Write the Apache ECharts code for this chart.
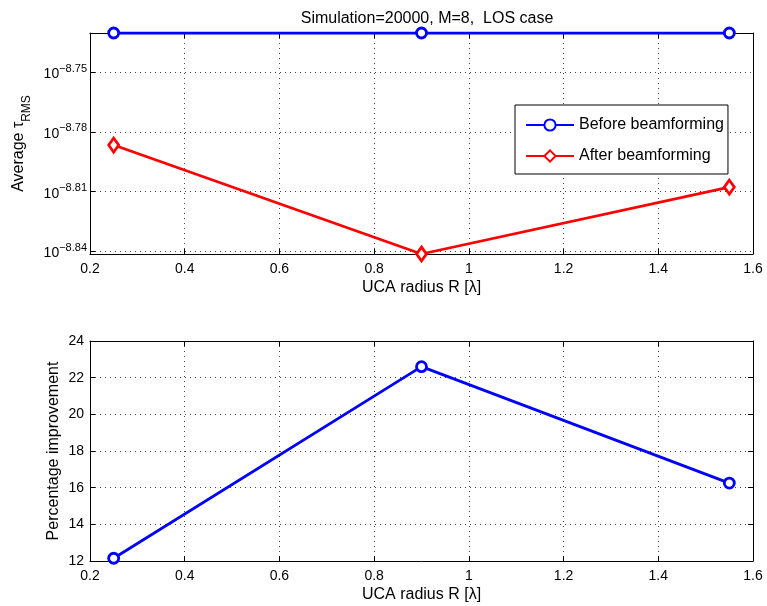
<!DOCTYPE html>
<html>
<head>
<meta charset="utf-8">
<title>UCA beamforming delay spread</title>
<script src="https://cdn.jsdelivr.net/npm/echarts@6/dist/echarts.min.js"></script>
<style>
  html, body { margin: 0; padding: 0; background: #fff; }
  #chart { width: 767px; height: 606px; }
</style>
</head>
<body>
<div id="chart"></div>
<script>
// UCA radius values (in wavelengths)
const radius = [0.25, 0.9, 1.55];
// Average RMS delay spread (seconds)
const tauBefore = [1.8601e-9, 1.8601e-9, 1.8601e-9];
const tauAfter = [1.6345e-9, 1.4414e-9, 1.5571e-9];
// Percentage improvement after beamforming
const improvement = [12.15, 22.6, 16.25];
// Log-axis tick exponents (ticks at 10^e)
const tauTickExponents = [-8.84, -8.81, -8.78, -8.75];
const tauTicks = tauTickExponents.map(e => Math.pow(10, e));

const FONT = 'Liberation Sans';
const BLUE = '#0000ff';
const RED = '#ff0000';
const LINE_W = 2.8;

function pairs(xs, ys) { return xs.map((x, i) => [x, ys[i]]); }

function expLabel(v) {
  const e = Math.log10(v).toFixed(2);
  return '{b|10}{s|\u2212' + e.replace('-', '') + '}';
}

const gridLine = { show: true, lineStyle: { color: '#000', type: [1, 4], width: 1, opacity: 0.75 } };
const axisLineBlack = { show: true, lineStyle: { color: '#000', width: 1 } };
const tickIn = { show: true, inside: true, length: 5, lineStyle: { color: '#000' } };
const nameStyle = { color: '#000', fontFamily: FONT, fontSize: 16 };

function xAxes(gridIndex) {
  const common = { type: 'value', gridIndex, min: 0.2, max: 1.6, interval: 0.2 };
  return [
    Object.assign({}, common, {
      position: 'bottom',
      axisLine: axisLineBlack, axisTick: tickIn, splitLine: gridLine,
      axisLabel: { color: '#000', fontFamily: FONT, fontSize: 14, margin: 8 },
      name: 'UCA radius R [\u03bb]', nameLocation: 'middle', nameGap: 26,
      nameTextStyle: nameStyle
    }),
    Object.assign({}, common, {
      position: 'top',
      axisLine: axisLineBlack, axisTick: tickIn, splitLine: { show: false },
      axisLabel: { show: false }
    })
  ];
}

const option = {
  animation: false,
  backgroundColor: '#fff',
  title: {
    text: 'Simulation=20000, M=8,  LOS case',
    left: 422, top: 6, textAlign: 'center',
    textStyle: { color: '#000', fontFamily: FONT, fontSize: 16, fontWeight: 'normal' }
  },
  legend: {
    data: ['Before beamforming', 'After beamforming'],
    orient: 'vertical',
    left: 515, top: 105,
    padding: [12, 4, 10, 10],
    itemGap: 15,
    itemWidth: 48, itemHeight: 14,
    backgroundColor: '#fff',
    borderColor: '#000', borderWidth: 1,
    textStyle: { color: '#000', fontFamily: FONT, fontSize: 16 }
  },
  grid: [
    { left: 90, top: 33, width: 663, height: 221, show: false },
    { left: 90, top: 341, width: 663, height: 220, show: false }
  ],
  xAxis: xAxes(0).concat(xAxes(1)),
  yAxis: [
    {
      type: 'log', logBase: 10, gridIndex: 0, position: 'left',
      min: v => v.min, max: v => v.max,
      axisLine: axisLineBlack,
      axisTick: Object.assign({}, tickIn, { customValues: tauTicks }),
      splitLine: gridLine,
      axisLabel: {
        customValues: tauTicks, margin: 3, formatter: expLabel,
        rich: {
          b: { color: '#000', fontFamily: FONT, fontSize: 14, lineHeight: 18, verticalAlign: 'bottom' },
          s: { color: '#000', fontFamily: FONT, fontSize: 11, lineHeight: 8, verticalAlign: 'top' }
        }
      },
      name: '{a|Average \u03c4}{r|RMS}', nameLocation: 'middle', nameGap: 57,
      nameMoveOverlap: false,
      nameTextStyle: {
        rich: {
          a: { color: '#000', fontFamily: FONT, fontSize: 16, lineHeight: 22, verticalAlign: 'top' },
          r: { color: '#000', fontFamily: FONT, fontSize: 12, lineHeight: 12, verticalAlign: 'bottom' }
        }
      }
    },
    {
      type: 'log', logBase: 10, gridIndex: 0, position: 'right',
      min: v => v.min, max: v => v.max,
      axisLine: axisLineBlack,
      axisTick: Object.assign({}, tickIn, { customValues: tauTicks }),
      splitLine: { show: false }, axisLabel: { show: false }
    },
    {
      type: 'value', gridIndex: 1, position: 'left', min: 12, max: 24, interval: 2,
      axisLine: axisLineBlack, axisTick: tickIn, splitLine: gridLine,
      axisLabel: { color: '#000', fontFamily: FONT, fontSize: 14, margin: 6 },
      name: 'Percentage improvement', nameLocation: 'middle', nameGap: 28,
      nameMoveOverlap: false,
      nameTextStyle: nameStyle
    },
    {
      type: 'value', gridIndex: 1, position: 'right', min: 12, max: 24, interval: 2,
      axisLine: axisLineBlack, axisTick: tickIn, splitLine: { show: false }, axisLabel: { show: false }
    }
  ],
  series: [
    {
      name: 'Before beamforming', type: 'line', xAxisIndex: 0, yAxisIndex: 0,
      data: pairs(radius, tauBefore),
      symbol: 'circle', symbolSize: 10, showAllSymbol: true,
      lineStyle: { color: BLUE, width: LINE_W },
      itemStyle: { color: '#fff', borderColor: BLUE, borderWidth: LINE_W },
      color: BLUE, z: 3
    },
    {
      name: 'After beamforming', type: 'line', xAxisIndex: 0, yAxisIndex: 0,
      data: pairs(radius, tauAfter),
      symbol: 'diamond', symbolSize: [10, 14], showAllSymbol: true,
      lineStyle: { color: RED, width: LINE_W },
      itemStyle: { color: '#fff', borderColor: RED, borderWidth: LINE_W },
      color: RED, z: 3
    },
    {
      name: 'Improvement', type: 'line', xAxisIndex: 2, yAxisIndex: 2,
      data: pairs(radius, improvement),
      symbol: 'circle', symbolSize: 10, showAllSymbol: true,
      lineStyle: { color: BLUE, width: LINE_W },
      itemStyle: { color: '#fff', borderColor: BLUE, borderWidth: LINE_W },
      color: BLUE, z: 3
    }
  ]
};

const chart = echarts.init(document.getElementById('chart'), null, { renderer: 'canvas' });
chart.setOption(option);
</script>
</body>
</html>
